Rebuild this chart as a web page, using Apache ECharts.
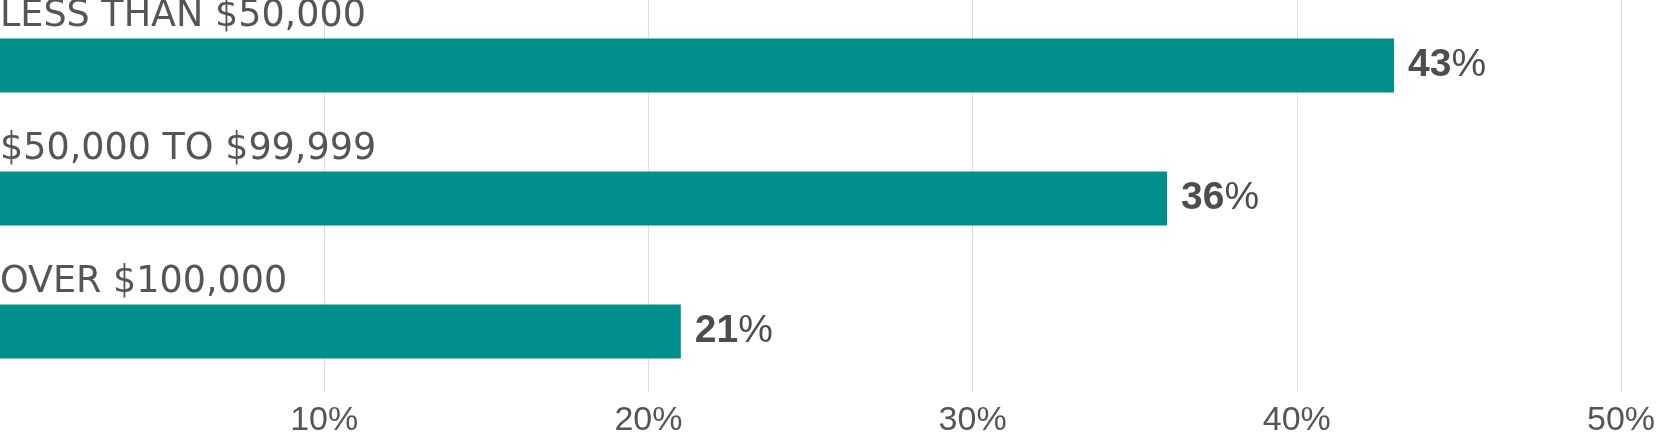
<!DOCTYPE html>
<html>
<head>
<meta charset="utf-8">
<script src="https://cdn.jsdelivr.net/npm/echarts@6/dist/echarts.min.js"></script>
<style>
html,body{margin:0;padding:0;background:#fff;}
#chart{width:1657px;height:437px;}
</style>
</head>
<body>
<div id="chart"></div>
<script>
const categories = ['LESS THAN $50,000', '$50,000 TO $99,999', 'OVER $100,000'];
const values = [43, 36, 21];
const axisMin = 0;
const axisMax = 50;
const axisStep = 10;

const chart = echarts.init(document.getElementById('chart'));
const fontFam = '"Liberation Sans", Arial, sans-serif';
const catFont = '"DejaVu Sans", "Liberation Sans", sans-serif';
chart.setOption({
  animation: false,
  backgroundColor: '#ffffff',
  grid: [
    {left: 0, right: 36, top: -1, height: 399, containLabel: false, outerBoundsMode: 'none'},
    {left: 0, right: 36, top: 0, bottom: 45, containLabel: false, outerBoundsMode: 'none'}
  ],
  xAxis: [
    {gridIndex: 0, type: 'value', min: axisMin, max: axisMax, show: false},
    {gridIndex: 1, type: 'value', min: axisMin, max: axisMax, interval: axisStep,
     axisLine: {show: false}, axisTick: {show: false},
     splitLine: {show: true, showMinLine: false, lineStyle: {color: '#dddddd', width: 1}},
     axisLabel: {color: '#555555', fontSize: 34, fontFamily: fontFam, margin: 12, showMaxLabel: true,
       formatter: v => v === 0 ? '' : v + '%'}}
  ],
  yAxis: [
    {gridIndex: 0, type: 'category', data: categories, inverse: true,
     axisLine: {show: false}, axisTick: {show: false}, splitLine: {show: false},
     axisLabel: {show: false}},
    {gridIndex: 1, type: 'value', show: false, min: 0, max: 1}
  ],
  series: [
    {type: 'bar', xAxisIndex: 0, yAxisIndex: 0, data: values, barWidth: 54, z: 3,
     itemStyle: {color: '#008f8c'},
     label: {show: true, position: 'right', distance: 14,
       formatter: p => '{b|' + p.value + '}{p|%}',
       rich: {
         b: {fontSize: 39, fontWeight: 'bold', color: '#4d4d4d', fontFamily: fontFam},
         p: {fontSize: 39, fontWeight: 'normal', color: '#4d4d4d', fontFamily: fontFam}
       }}},
    {type: 'bar', xAxisIndex: 0, yAxisIndex: 0, data: values, barWidth: 54, barGap: '-100%', z: 4,
     silent: true,
     itemStyle: {color: 'rgba(0,0,0,0)'},
     label: {show: true, position: [0, -3], align: 'left', verticalAlign: 'bottom',
       formatter: p => p.name,
       color: '#555555', fontSize: 36.5, lineHeight: 37, fontFamily: catFont}},
    {type: 'scatter', xAxisIndex: 1, yAxisIndex: 1, data: [], silent: true}
  ]
});
</script>
</body>
</html>
